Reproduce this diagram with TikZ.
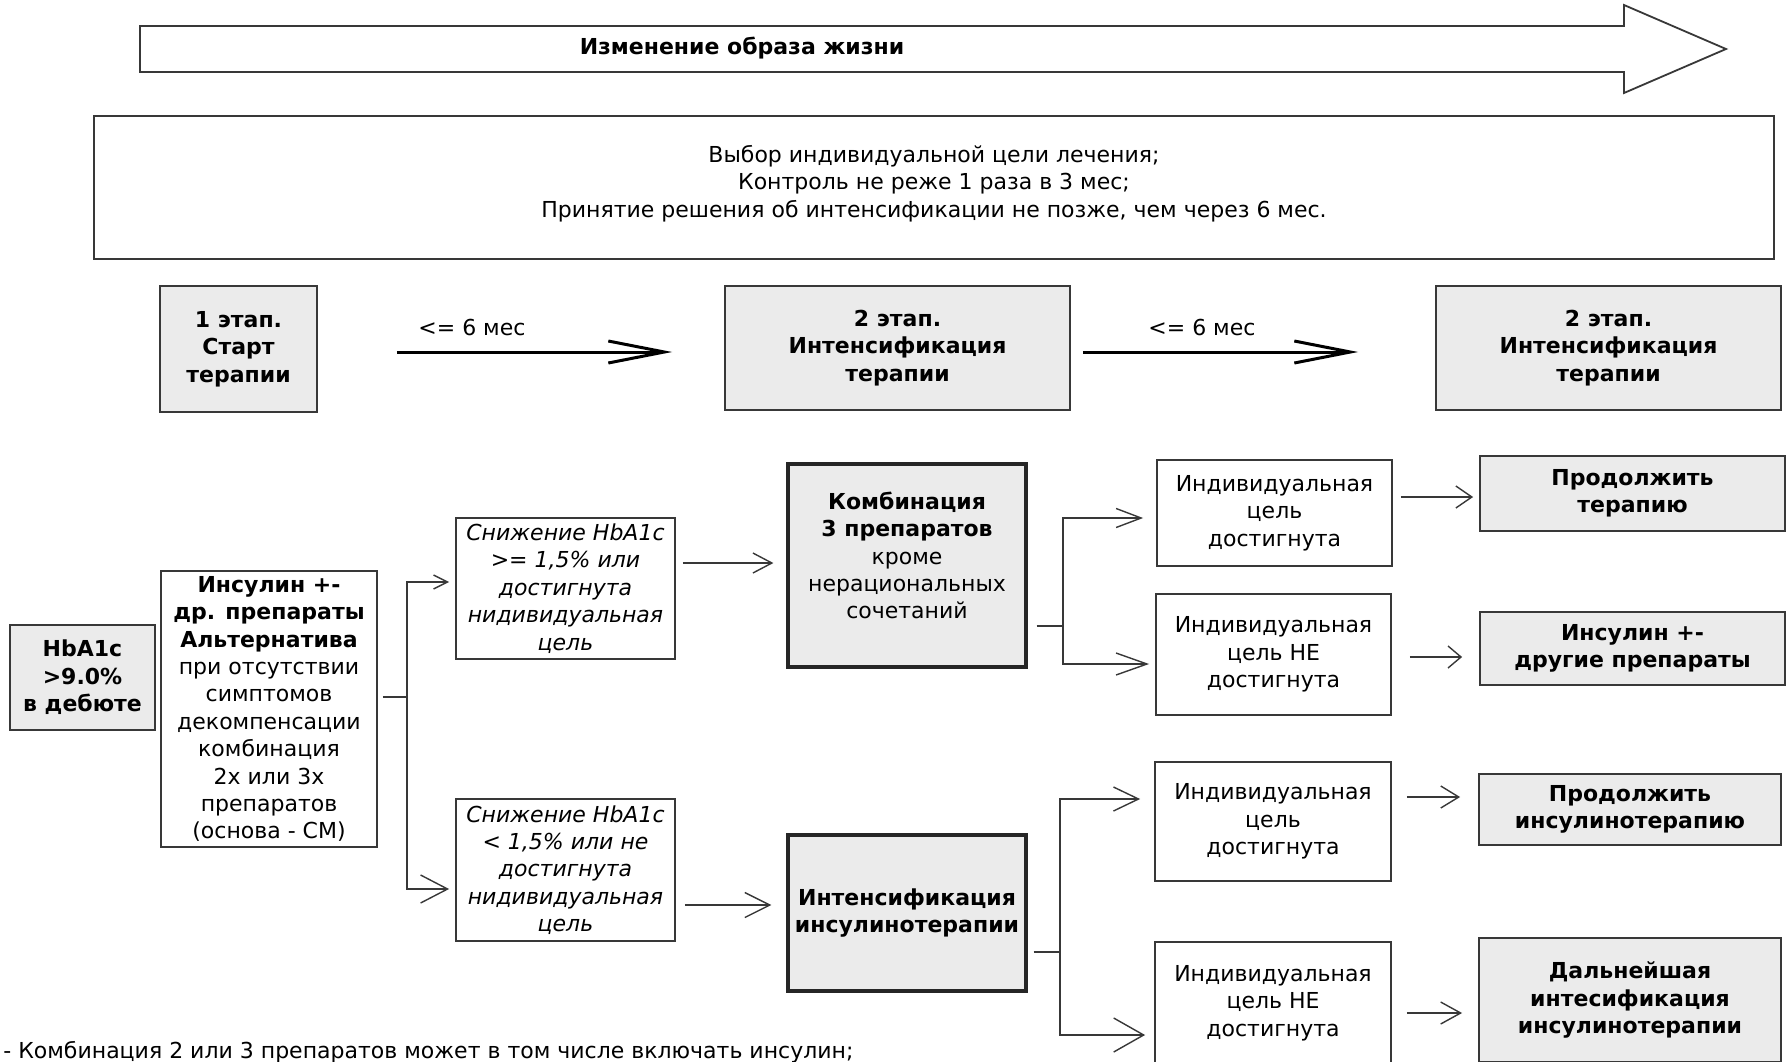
\documentclass[tikz,border=0pt]{standalone}
\usepackage{fontspec}
\setmainfont{DejaVu Sans}
\usetikzlibrary{arrows.meta}
\definecolor{boxgray}{HTML}{EBEBEB}
\definecolor{edge}{HTML}{383838}
\begin{document}
\begin{tikzpicture}[x=0.5pt,y=-0.5pt,
  every node/.style={font=\fontsize{11}{13.7}\selectfont, align=center, inner sep=1pt},
  bftext/.style={font=\fontsize{11}{13.7}\selectfont\bfseries},
  ittext/.style={font=\fontsize{11}{13.7}\selectfont\itshape},
  plainbox/.style={draw=edge, line width=0.9pt, rectangle},
  graybox/.style={plainbox, fill=boxgray},
  heavybox/.style={draw=black!85, line width=1.6pt, fill=boxgray, rectangle},
  conn/.style={draw=edge, line width=0.7pt},
  hd/.style 2 args={-{Straight Barb[length=#1,width=#2]}},
  stagearrow/.style={draw=black, line width=1.5pt, -{Straight Barb[length=28pt,width=11pt]}},
]
\path[use as bounding box, clip] (0,0) rectangle (1788,1061);
\fill[white] (0,0) rectangle (1788,1061);

% lifestyle arrow
\draw[draw=edge, line width=0.9pt, fill=white]
  (140,26) -- (1624,26) -- (1624,5) -- (1726,49) -- (1624,93) -- (1624,72) -- (140,72) -- cycle;
\node[bftext] (life) at (742,48) {Изменение образа жизни};

% goal box
\node[plainbox, line width=1.1pt, minimum width=840pt, minimum height=71.5pt,
  label={[yshift=2pt]center:{Выбор индивидуальной цели лечения;\\Контроль не реже 1 раза в 3 мес;\\Принятие решения об интенсификации не позже, чем через 6 мес.}}] (goal) at (934,187.5) {};

% stages
\node[graybox, bftext, minimum width=78.5pt, minimum height=63pt] (s1) at (238.5,349) {1 этап.\\Старт\\терапии};
\node[graybox, bftext, minimum width=172.5pt, minimum height=62pt] (s2) at (897.5,348) {2 этап.\\Интенсификация\\терапии};
\node[graybox, bftext, minimum width=172.5pt, minimum height=62pt] (s3) at (1608.5,348) {2 этап.\\Интенсификация\\терапии};
\draw[stagearrow, shorten <=39.5pt, shorten >=26pt] (s1.east |- 0,352) -- (s2.west |- 0,352);
\draw[stagearrow, shorten <=6pt, shorten >=38.5pt] (s2.east |- 0,352) -- (s3.west |- 0,352);
\node[anchor=west] (l1) at (416,327) {<= 6 мес};
\node[anchor=west] (l2) at (1146,327) {<= 6 мес};

% left column
\node[graybox, bftext, minimum width=72.5pt, minimum height=52.5pt] (hb) at (82.5,677.5) {HbA1c\\>9.0\%\\в дебюте};
\node[plainbox, minimum width=108pt, minimum height=138pt] (ins) at (269,709)
  {\bfseries Инсулин +-\\\bfseries др. препараты\\\bfseries Альтернатива\\при отсутствии\\симптомов\\декомпенсации\\комбинация\\2х или 3х\\препаратов\\(основа - СМ)};

\node[plainbox, ittext, minimum width=109.5pt, minimum height=70.5pt] (sn1) at (565.5,588.5)
  {Снижение HbA1c\\>= 1,5\% или\\достигнута\\нидивидуальная\\цель};
\node[plainbox, ittext, minimum width=109.5pt, minimum height=71pt] (sn2) at (565.5,870)
  {Снижение HbA1c\\< 1,5\% или не\\достигнута\\нидивидуальная\\цель};

\coordinate (j1) at (407,697);
\draw[conn, hd={7pt}{7pt}, shorten <=2.5pt, shorten >=3pt] (ins.east |- j1) -- (j1) |- (sn1.west |- 0,582);
\draw[conn, hd={13.5pt}{14pt}, shorten >=3pt] (j1) |- (sn2.west |- 0,889);

% middle column
\node[heavybox, minimum width=119pt, minimum height=101.5pt,
  label={[yshift=5pt]center:{\bfseries Комбинация\\\bfseries 3 препаратов\\кроме\\нерациональных\\сочетаний}}] (komb) at (907,565.5) {};
\node[heavybox, bftext, minimum width=119pt, minimum height=78pt, inner sep=0pt] (ii) at (907,913)
  {Интенсификация\\инсулинотерапии};

\draw[conn, hd={9.5pt}{10pt}, shorten <=3.5pt, shorten >=6.5pt] (sn1.east |- 0,563) -- (komb.west |- 0,563);
\draw[conn, hd={12.5pt}{12.5pt}, shorten <=4.5pt, shorten >=7.5pt] (sn2.east |- 0,905) -- (ii.west |- 0,905);

% individual goal boxes
\node[plainbox, minimum width=117.5pt, minimum height=53pt] (ind1) at (1274.5,513) {Индивидуальная\\цель\\достигнута};
\node[plainbox, minimum width=117.5pt, minimum height=60.5pt] (ind2) at (1273.5,654.5) {Индивидуальная\\цель НЕ\\достигнута};
\node[plainbox, minimum width=118pt, minimum height=59.5pt] (ind3) at (1273,821.5) {Индивидуальная\\цель\\достигнута};
\node[plainbox, minimum width=118pt, minimum height=61pt] (ind4) at (1273,1003) {Индивидуальная\\цель НЕ\\достигнута};

\coordinate (j2) at (1063,626);
\draw[conn, hd={12.5pt}{9.5pt}, shorten <=4.5pt, shorten >=6.5pt] (komb.east |- j2) -- (j2) |- (ind1.west |- 0,518);
\draw[conn, hd={15.5pt}{11pt}, shorten >=3pt] (j2) |- (ind2.west |- 0,664);
\coordinate (j3) at (1060,952);
\draw[conn, hd={12.5pt}{12pt}, shorten <=3pt, shorten >=7pt] (ii.east |- j3) -- (j3) |- (ind3.west |- 0,799);
\draw[conn, hd={15pt}{17pt}, shorten >=4.5pt] (j3) |- (ind4.west |- 0,1035);

% results
\node[graybox, bftext, minimum width=152.5pt, minimum height=37.5pt] (r1) at (1632.5,493.5) {Продолжить\\терапию};
\node[graybox, bftext, minimum width=152.5pt, minimum height=36.5pt] (r2) at (1632.5,648.5) {Инсулин +-\\другие препараты};
\node[graybox, bftext, minimum width=151pt, minimum height=35.5pt] (r3) at (1630,809.5) {Продолжить\\инсулинотерапию};
\node[graybox, bftext, minimum width=151pt, minimum height=62pt] (r4) at (1630,1000) {Дальнейшая\\интесификация\\инсулинотерапии};

\draw[conn, hd={8pt}{11pt}, shorten <=4pt, shorten >=3pt] (ind1.east |- 0,497) -- (r1.west |- 0,497);
\draw[conn, hd={6.5pt}{11pt}, shorten <=9pt, shorten >=8.5pt] (ind2.east |- 0,657) -- (r2.west |- 0,657);
\draw[conn, hd={9pt}{11pt}, shorten <=7.5pt, shorten >=9pt] (ind3.east |- 0,797) -- (r3.west |- 0,797);
\draw[conn, hd={10pt}{11pt}, shorten <=7.5pt, shorten >=8pt] (ind4.east |- 0,1013) -- (r4.west |- 0,1013);

% footnote
\node[anchor=west] (note) at (1,1052) {- Комбинация 2 или 3 препаратов может в том числе включать инсулин;};
\end{tikzpicture}
\end{document}
